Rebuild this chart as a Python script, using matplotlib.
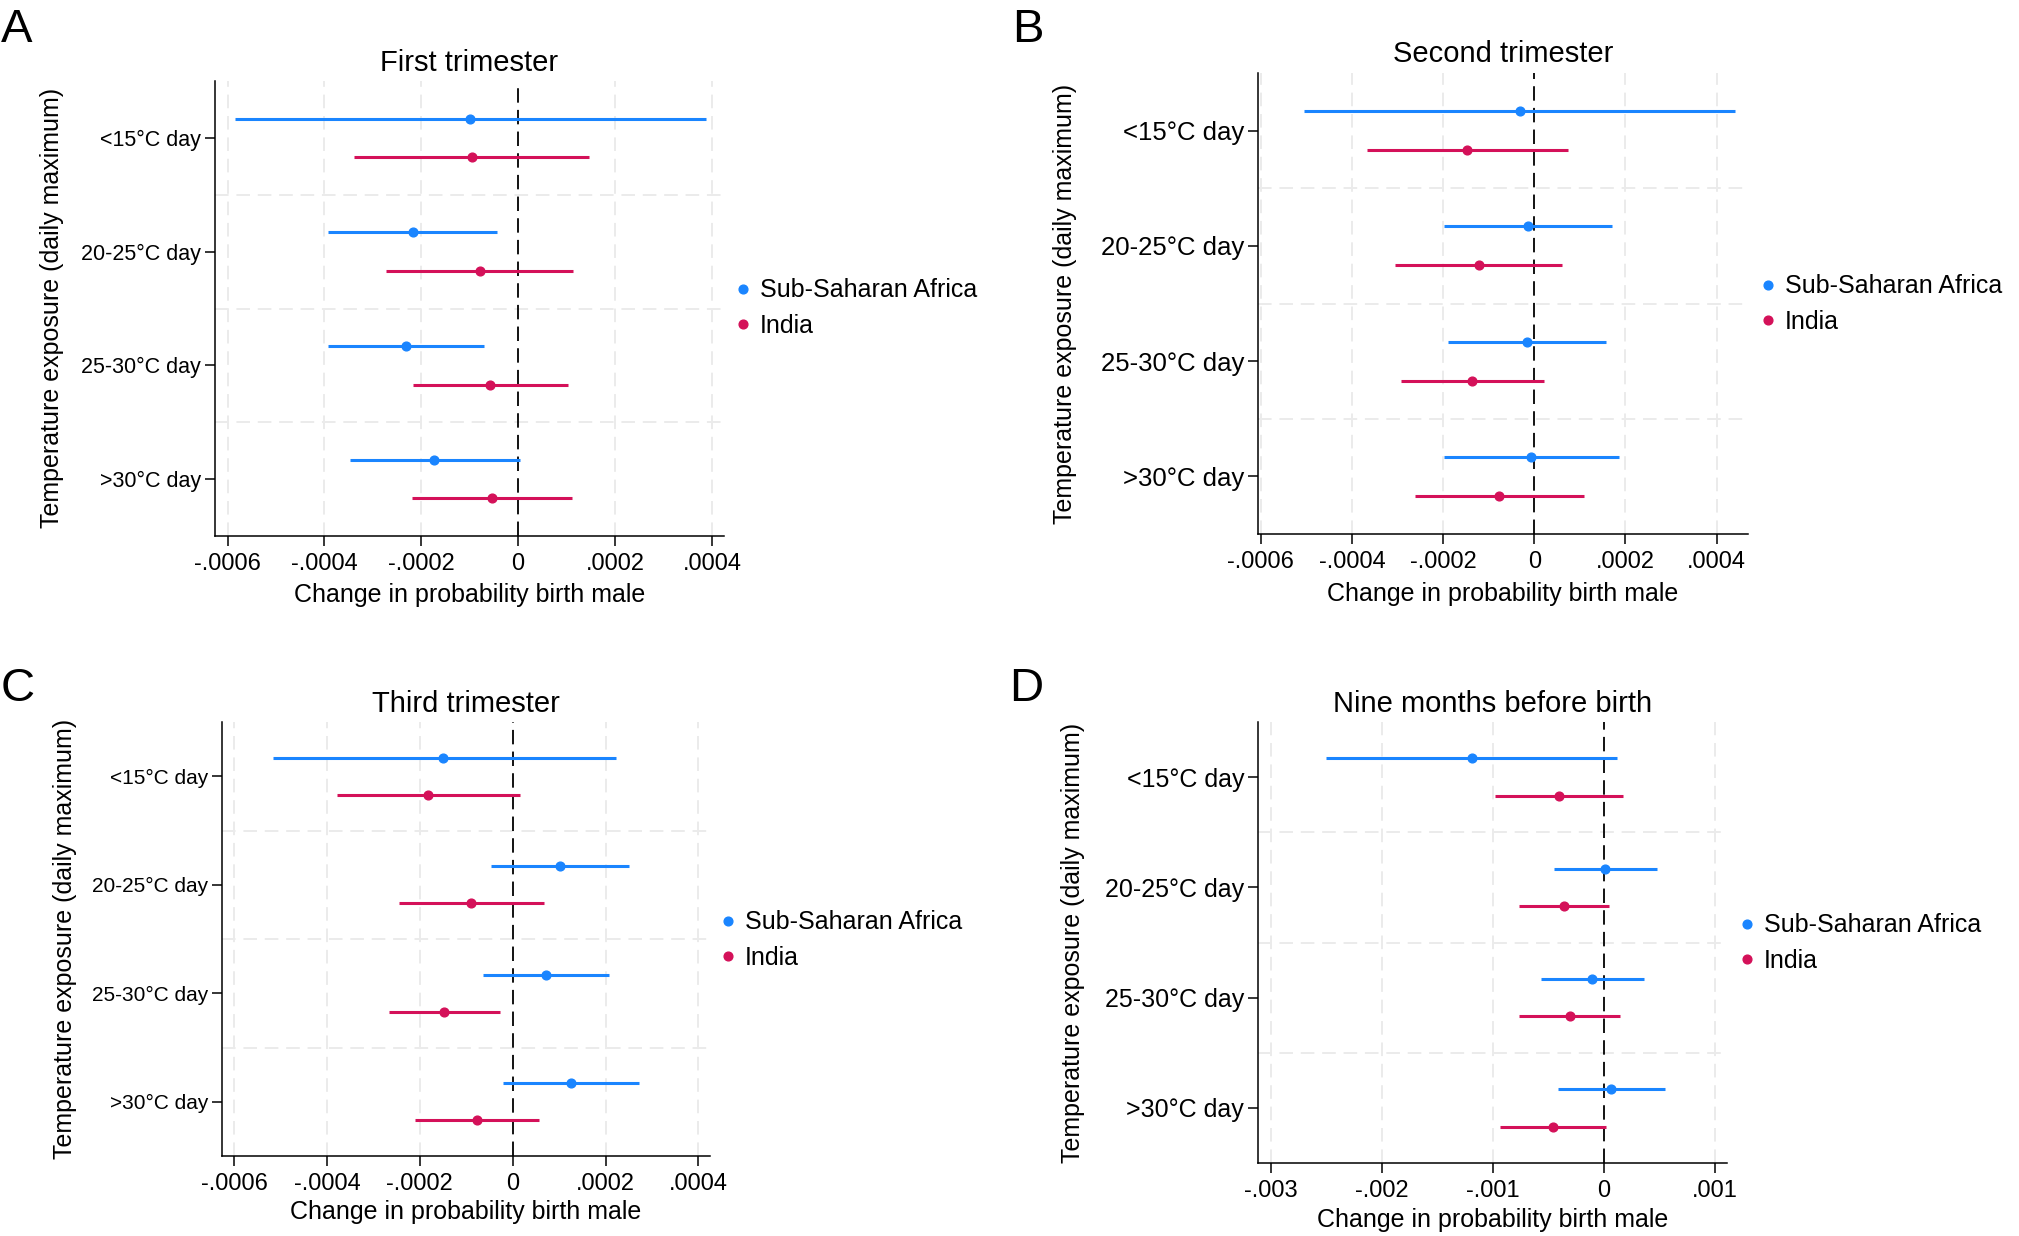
import matplotlib
matplotlib.use("Agg")
import matplotlib.pyplot as plt
from matplotlib.lines import Line2D
import numpy as np

plt.rcParams['font.family'] = ['Liberation Sans', 'DejaVu Sans']

categories = ["<15°C day", "20-25°C day", "25-30°C day", ">30°C day"]
series_names = ["Sub-Saharan Africa", "India"]
panel_letters = ["A", "B", "C", "D"]
panel_titles = ["First trimester", "Second trimester", "Third trimester", "Nine months before birth"]
xlabel_text = "Change in probability birth male"
ylabel_text = "Temperature exposure (daily maximum)"

# Panel A - First trimester
a_ssa_est = [-0.000099, -0.000218, -0.000231, -0.000174]
a_ssa_lo = [-0.000585, -0.000392, -0.000392, -0.000348]
a_ssa_hi = [0.000388, -0.000044, -0.000071, 0.000003]
a_ind_est = [-0.000096, -0.000079, -0.000058, -0.000054]
a_ind_lo = [-0.000340, -0.000272, -0.000217, -0.000219]
a_ind_hi = [0.000147, 0.000114, 0.000103, 0.000111]

# Panel B - Second trimester
b_ssa_est = [-0.000032, -0.000013, -0.000016, -0.000006]
b_ssa_lo = [-0.000504, -0.000198, -0.000190, -0.000199]
b_ssa_hi = [0.000440, 0.000171, 0.000157, 0.000186]
b_ind_est = [-0.000147, -0.000122, -0.000137, -0.000077]
b_ind_lo = [-0.000366, -0.000305, -0.000293, -0.000261]
b_ind_hi = [0.000074, 0.000061, 0.000022, 0.000109]

# Panel C - Third trimester
c_ssa_est = [-0.000149, 0.000102, 0.000071, 0.000126]
c_ssa_lo = [-0.000517, -0.000046, -0.000063, -0.000021]
c_ssa_hi = [0.000222, 0.000251, 0.000208, 0.000273]
c_ind_est = [-0.000183, -0.000089, -0.000148, -0.000077]
c_ind_lo = [-0.000379, -0.000244, -0.000266, -0.000211]
c_ind_hi = [0.000015, 0.000067, -0.000028, 0.000056]

# Panel D - Nine months before birth
d_ssa_est = [-0.001195, 0.000012, -0.000105, 0.000064]
d_ssa_lo = [-0.002507, -0.000449, -0.000566, -0.000420]
d_ssa_hi = [0.000117, 0.000478, 0.000362, 0.000548]
d_ind_est = [-0.000408, -0.000362, -0.000309, -0.000461]
d_ind_lo = [-0.000980, -0.000764, -0.000764, -0.000939]
d_ind_hi = [0.000169, 0.000047, 0.000146, 0.000017]

# tick values / labels
ticks_small = [-0.0006, -0.0004, -0.0002, 0, 0.0002, 0.0004]
ticklabels_small = ["-.0006", "-.0004", "-.0002", "0", ".0002", ".0004"]
ticks_d = [-0.003, -0.002, -0.001, 0, 0.001]
ticklabels_d = ["-.003", "-.002", "-.001", "0", ".001"]

panels = [
    dict(ssa=(a_ssa_est, a_ssa_lo, a_ssa_hi), ind=(a_ind_est, a_ind_lo, a_ind_hi),
         ticks=ticks_small, tl=ticklabels_small, xlim=(-0.000626, 0.000425),
         pos=(215, 81, 724, 536), ytfs=15.5, title_pad=7, legend=(744, 308)),
    dict(ssa=(b_ssa_est, b_ssa_lo, b_ssa_hi), ind=(b_ind_est, b_ind_lo, b_ind_hi),
         ticks=ticks_small, tl=ticklabels_small, xlim=(-0.000606, 0.000469),
         pos=(1258, 73, 1748, 534), ytfs=18.5, title_pad=8, legend=(1769, 304)),
    dict(ssa=(c_ssa_est, c_ssa_lo, c_ssa_hi), ind=(c_ind_est, c_ind_lo, c_ind_hi),
         ticks=ticks_small, tl=ticklabels_small, xlim=(-0.000626, 0.000425),
         pos=(222, 722, 710, 1156), ytfs=15, title_pad=7, legend=(729, 940)),
    dict(ssa=(d_ssa_est, d_ssa_lo, d_ssa_hi), ind=(d_ind_est, d_ind_lo, d_ind_hi),
         ticks=ticks_d, tl=ticklabels_d, xlim=(-0.00312, 0.001108),
         pos=(1258, 722, 1727, 1163), ytfs=18, title_pad=7, legend=(1748, 943)),
]

ylabel_centers = [(52, 308), (1065, 304), (65, 939), (1073, 943)]
letter_pos = [(1, 42), (1012, 42), (1, 701), (1009, 701)]

W, H = 2019, 1236
fig = plt.figure(figsize=(W / 100, H / 100), dpi=100)

blue = "#1A85FF"
red = "#D41159"
grid_c = "#ebebeb"
offset = 0.17

ypos = np.arange(1, len(categories) + 1)

for i, p in enumerate(panels):
    l, t, r, b = p["pos"]
    ax = fig.add_axes([l / W, 1 - b / H, (r - l) / W, (b - t) / H])
    for x in p["ticks"]:
        if x != 0:
            ax.axvline(x, color=grid_c, lw=1.4, ls=(0, (7, 4)), zorder=0)
    for yb in ypos[:-1] + 0.5:
        ax.axhline(yb, color=grid_c, lw=1.4, ls=(0, (7, 4)), zorder=0)
    ax.axvline(0, color="black", lw=1.3, ls=(0, (8, 4)), zorder=1)

    for key, col, off in (("ssa", blue, -offset), ("ind", red, offset)):
        est, lo, hi = p[key]
        yy = ypos + off
        ax.hlines(yy, lo, hi, color=col, lw=2.2, zorder=2)
        ax.plot(est, yy, "o", color=col, ms=6.3, zorder=3, mec=col)

    ax.set_ylim(len(categories) + 0.5, 0.5)
    ax.set_xlim(*p["xlim"])
    ax.set_yticks(ypos)
    ax.set_yticklabels(categories, fontsize=p["ytfs"])
    ax.set_xticks(p["ticks"])
    ax.set_xticklabels(p["tl"], fontsize=17)
    ax.tick_params(axis="both", length=7, width=1.1, color="black", direction="out")
    ax.tick_params(axis="x", pad=5)
    ax.tick_params(axis="y", pad=3)
    for s in ("top", "right"):
        ax.spines[s].set_visible(False)
    for s in ("left", "bottom"):
        ax.spines[s].set_linewidth(1.1)

    ax.set_title(panel_titles[i], fontsize=21, pad=p["title_pad"])
    ax.set_xlabel(xlabel_text, fontsize=18, va="center")
    ax.xaxis.set_label_coords(0.5, -0.13)
    ax.set_ylabel(ylabel_text, fontsize=18, va="center")
    cx, cy = ylabel_centers[i]
    ax.yaxis.set_label_coords((cx - l) / (r - l), (b - cy) / (b - t))

    handles = [Line2D([], [], ls="none", marker="o", color=blue, ms=6.3),
               Line2D([], [], ls="none", marker="o", color=red, ms=6.3)]
    lx, ly = p["legend"]
    leg = ax.legend(handles, series_names, loc="center left",
                    bbox_to_anchor=(lx / W - 0.004, 1 - ly / H),
                    bbox_transform=fig.transFigure, frameon=False,
                    fontsize=18, handlelength=0.6, handletextpad=0.35,
                    labelspacing=0.45, borderpad=0, borderaxespad=0)

    lx2, ly2 = letter_pos[i]
    fig.text(lx2 / W, 1 - ly2 / H, panel_letters[i], fontsize=34,
             ha="left", va="baseline")

fig.savefig("out.png", dpi=100, facecolor="white")
